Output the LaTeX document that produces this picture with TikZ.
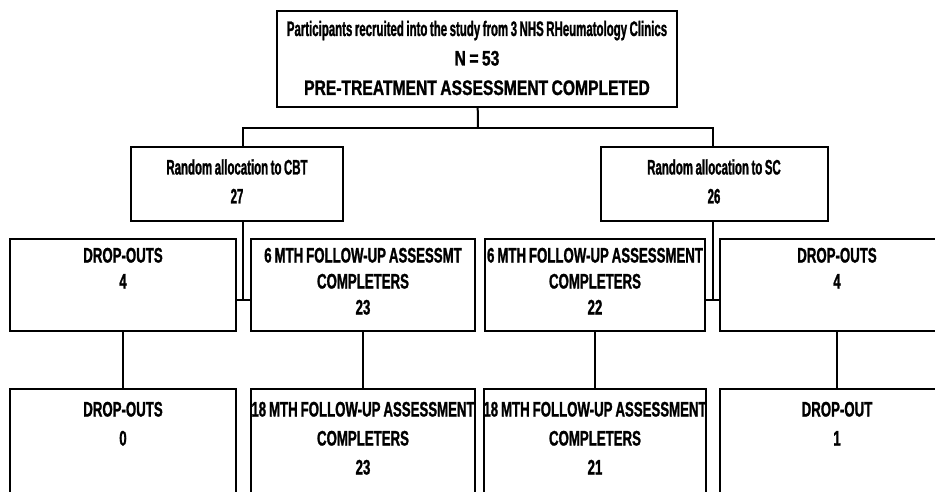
\documentclass[tikz,border=0pt]{standalone}
\usepackage{fontspec}
\setmainfont{Liberation Sans}[FakeStretch=0.63, WordSpace=0.8, BoldFeatures={FakeBold=1.2}]
\newfontfamily\narrowfont{Liberation Sans}[FakeStretch=0.545, WordSpace=0.8, BoldFeatures={FakeBold=1.2}]
\newfontfamily\headfont{Liberation Sans}[FakeStretch=0.745, WordSpace=0.8, BoldFeatures={FakeBold=1.2}]
\usetikzlibrary{positioning}

\begin{document}
\begin{tikzpicture}[x=1pt, y=1pt, line width=2pt,
  box/.style={draw, inner xsep=-10pt, inner ysep=0pt, anchor=north,
    align=flush center, font=\bfseries\fontsize{21}{26}\selectfont},
  headbox/.style={box, text height=25pt, text depth=71pt,
    font=\headfont\bfseries\fontsize{21}{29.5}\selectfont},
  armbox/.style={box, text height=27.5pt, text depth=46.5pt,
    font=\narrowfont\bfseries\fontsize{21}{29}\selectfont},
  midbox/.style={box, text height=23.5pt, text depth=68.5pt},
  lowbox/.style={box, text height=27.5pt, text depth=150pt,
    font=\bfseries\fontsize{21}{29}\selectfont}]
  \useasboundingbox (0,0) rectangle (935,-492);
  \clip (0,0) rectangle (935,-492);

  \node[headbox, text width=420pt] (top) at (477,-10)
    {{\narrowfont Participants recruited into the study from 3 NHS RHeumatology Clinics}\\
     N = 53\\PRE-TREATMENT ASSESSMENT COMPLETED};

  \node[armbox, text width=232pt] (cbt) at (237,-146) {Random allocation to CBT\\27};
  \node[armbox, text width=247pt] (sc) at (714,-146) {Random allocation to SC\\26};

  \node[midbox, text width=246pt] (cbtdrop) at (123,-238) {DROP-OUTS\\4};
  \node[midbox, text width=244pt] (cbtsix) at (363,-238)
    {6 MTH FOLLOW-UP ASSESSMT\\COMPLETERS\\23};
  \node[midbox, text width=240pt] (scsix) at (595,-238)
    {6 MTH FOLLOW-UP ASSESSMENT\\COMPLETERS\\22};
  \node[midbox, text width=254pt] (scdrop) at (837,-238) {DROP-OUTS\\4};

  \node[lowbox, text width=246pt] (cbtdrop2) at (123,-388) {DROP-OUTS\\0};
  \node[lowbox, text width=244pt] (cbteight) at (363,-388)
    {18 MTH FOLLOW-UP ASSESSMENT\\COMPLETERS\\23};
  \node[lowbox, text width=242pt] (sceight) at (595,-388)
    {18 MTH FOLLOW-UP ASSESSMENT\\COMPLETERS\\21};
  \node[lowbox, text width=254pt] (scdrop2) at (837,-388) {DROP-OUT\\1};

  % branching lines
  \coordinate (split) at (478,-128);
  \coordinate (cbtjoin) at (243,-300);
  \coordinate (scjoin) at (713,-300);
  \draw (top) -- (split);
  \draw (cbtjoin |- cbt.north) |- (split) -| (scjoin |- sc.north);
  \draw (cbtjoin |- cbt.south) -- (cbtjoin);
  \draw (scjoin |- sc.south) -- (scjoin);
  \draw (cbtdrop.east |- cbtjoin) -- (cbtsix.west |- cbtjoin);
  \draw (scsix.east |- scjoin) -- (scdrop.west |- scjoin);
  \draw (cbtdrop) -- (cbtdrop2);
  \draw (cbtsix) -- (cbteight);
  \draw (scsix) -- (sceight);
  \draw (scdrop) -- (scdrop2);
\end{tikzpicture}
\end{document}
